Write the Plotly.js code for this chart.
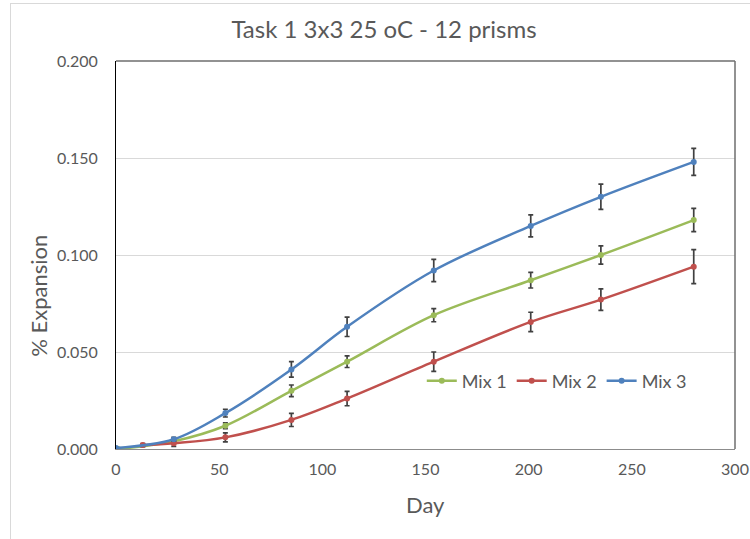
<!DOCTYPE html>
<html>
<head>
<meta charset="utf-8">
<script src="https://cdn.plot.ly/plotly-3.0.1.min.js"></script>
<style>
  html, body { margin: 0; padding: 0; background: #ffffff; }
  #frame { position: absolute; left: 10px; top: 3px; width: 745px; height: 540px;
           border-left: 1px solid #d9d9d9; border-top: 1px solid #d9d9d9; pointer-events: none; }
  #chart { position: absolute; left: 0; top: 0; width: 750px; height: 539px; }
</style>
</head>
<body>
<div id="chart"></div>
<div id="frame"></div>
<script>
// Measurement days for each mix
const daysMix1 = [1, 28, 53, 85, 112, 154, 201, 235, 280];
const daysMix2 = [13, 28, 53, 85, 112, 154, 201, 235, 280];
const daysMix3 = [0, 28, 53, 85, 112, 154, 201, 235, 280];

// Mean % expansion per mix
const expMix1 = [0.000, 0.004, 0.012, 0.030, 0.045, 0.069, 0.087, 0.100, 0.118];
const expMix2 = [0.002, 0.003, 0.006, 0.015, 0.026, 0.045, 0.0655, 0.077, 0.094];
const expMix3 = [0.0005, 0.005, 0.0185, 0.041, 0.063, 0.092, 0.115, 0.130, 0.148];

// Standard deviations (error bars)
const errMix1 = [0.000, 0.001, 0.0015, 0.003, 0.003, 0.0034, 0.004, 0.0047, 0.006];
const errMix2 = [0.0008, 0.0016, 0.0023, 0.0034, 0.0037, 0.005, 0.005, 0.0055, 0.0088];
const errMix3 = [0.000, 0.001, 0.002, 0.004, 0.005, 0.0057, 0.0057, 0.0065, 0.007];

const seriesNames = ['Mix 1', 'Mix 2', 'Mix 3'];
const seriesColors = ['#9bbb59', '#c0504d', '#4f81bd'];

const xTicks = [0, 50, 100, 150, 200, 250, 300];
const yTicks = [0, 0.05, 0.10, 0.15, 0.20];

const font = 'Lato, "Open Sans", sans-serif';
const textGray = '#595959';

function makeTrace(name, color, x, y, err) {
  return {
    type: 'scatter', mode: 'lines+markers', name: name,
    x: x, y: y,
    line: { color: color, width: 2.5, shape: 'spline', smoothing: 1 },
    marker: { color: color, size: 6, symbol: 'circle' },
    error_y: { type: 'data', array: err, visible: true, color: '#404040', thickness: 1.7, width: 2.5 },
    cliponaxis: true
  };
}

const traces = [
  makeTrace(seriesNames[0], seriesColors[0], daysMix1, expMix1, errMix1),
  makeTrace(seriesNames[1], seriesColors[1], daysMix2, expMix2, errMix2),
  makeTrace(seriesNames[2], seriesColors[2], daysMix3, expMix3, errMix3)
];

const layout = {
  width: 750, height: 539,
  margin: { l: 116, r: 15, t: 61, b: 90 },
  paper_bgcolor: 'rgba(0,0,0,0)', plot_bgcolor: '#ffffff',
  font: { family: font, color: textGray },
  title: {
    text: 'Task 1 3x3 25 oC - 12 prisms',
    font: { family: font, size: 24, color: textGray },
    x: 0.512, xref: 'container', xanchor: 'center',
    y: 0.945, yref: 'container', yanchor: 'middle'
  },
  xaxis: {
    range: [0, 300], tickvals: xTicks, ticktext: xTicks.map(String),
    showgrid: false, zeroline: false,
    showline: true, linecolor: '#8c8c8c', linewidth: 1,
    ticks: '', ticklabelstandoff: 6,
    tickfont: { family: font, size: 16, color: textGray },
    title: { text: '' }
  },
  yaxis: {
    range: [0, 0.2], tickvals: yTicks, ticktext: yTicks.map(v => v.toFixed(3)),
    showgrid: true, gridcolor: '#d9d9d9', gridwidth: 1, zeroline: false,
    showline: true, linecolor: '#000000', linewidth: 1,
    ticks: '', ticklabelstandoff: 14,
    tickfont: { family: font, size: 16, color: textGray },
    title: { text: '' }
  },
  annotations: [
    { text: 'Day', xref: 'paper', yref: 'paper', x: 0.5, y: -0.143, xanchor: 'center', yanchor: 'middle',
      showarrow: false, font: { family: font, size: 22, color: textGray } },
    { text: '% Expansion', xref: 'paper', yref: 'paper', x: -0.125, y: 0.394, xanchor: 'center', yanchor: 'middle',
      textangle: -90, showarrow: false, font: { family: font, size: 22, color: textGray } }
  ],
  shapes: [
    { type: 'line', xref: 'paper', yref: 'paper', x0: 0, x1: 1, y0: 1, y1: 1,
      line: { color: '#6e6e6e', width: 1.5 } },
    { type: 'line', xref: 'paper', yref: 'paper', x0: 1, x1: 1, y0: 0, y1: 1,
      line: { color: '#6e6e6e', width: 1.5 } }
  ],
  legend: {
    orientation: 'h', x: 0.494, xanchor: 'left', y: 0.175, yanchor: 'middle',
    bgcolor: 'rgba(0,0,0,0)', font: { family: font, size: 18, color: textGray },
    itemwidth: 30, tracegroupgap: 0
  },
  showlegend: true
};

Plotly.newPlot('chart', traces, layout, { staticPlot: true, displayModeBar: false });
</script>
</body>
</html>
